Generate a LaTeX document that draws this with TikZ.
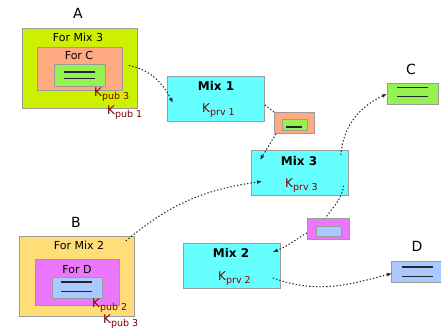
\documentclass[tikz,border=0pt]{standalone}
\usepackage{fontspec}
\setmainfont{DejaVu Sans}
\usepackage{tikz}
\usetikzlibrary{
  arrows.meta,
  calc,
  positioning,
}
\definecolor{boxgray}{RGB}{155, 155, 155}
\definecolor{keyred}{RGB}{128, 0, 0}
\definecolor{limeout}{RGB}{204, 240, 0}
\definecolor{salmon}{RGB}{255, 170, 128}
\definecolor{leafgreen}{RGB}{150, 242, 80}
\definecolor{mixcyan}{RGB}{102, 255, 255}
\definecolor{sandout}{RGB}{255, 221, 119}
\definecolor{orchid}{RGB}{235, 120, 252}
\definecolor{skyblue}{RGB}{170, 202, 255}
\tikzstyle{box} = [
  draw=boxgray,
  line width=0.8pt,
  anchor=north west,
  inner sep=0pt,
]
\tikzstyle{mixbox} = [box, fill=mixcyan, minimum width=97pt, minimum height=45pt]
\tikzstyle{txt} = [inner sep=0pt, anchor=base, font=\fontsize{11}{13}\selectfont]
\tikzstyle{party} = [txt, font=\fontsize{14}{16}\selectfont]
\tikzstyle{mixname} = [txt, font=\fontsize{12}{14}\selectfont\bfseries]
\tikzstyle{keytxt} = [inner sep=0pt, anchor=base west, text=keyred,
  font=\fontsize{12}{14}\selectfont]
\tikzstyle{msgline} = [line width=1.2pt, black!85]
\tikzstyle{hop} = [dash pattern=on 1.4pt off 2pt, line width=1pt, black!85]
\tikzstyle{arrow} = [hop, -{Latex[length=5pt,width=4pt]}]
\newcommand{\keyname}[1]{K\raisebox{-3pt}{\fontsize{9.5}{10}\selectfont #1}}

\begin{document}
\begin{tikzpicture}[x=1pt, y=1pt]

        \useasboundingbox (0,0) rectangle (441,-331);

        % sender A
        \node [box, fill=limeout, minimum width=115pt, minimum height=80pt] (aout) at (22,-28) {};
        \node [box, fill=salmon, minimum width=85pt, minimum height=43pt] (afor) at (37,-47) {};
        \node [box, fill=leafgreen, minimum width=51pt, minimum height=22pt] (amsg) at (54,-64) {};
        \draw [msgline] (64,-72) -- (95,-72);
        \draw [msgline, line width=1pt] (64,-79) -- (95,-79);
        \node [party] (alab) at (78,-19) {A};
        \node [txt] (aformix) at (78,-42) {For Mix 3};
        \node [txt] (aforc) at (79,-60) {For C};
        \node [keytxt] (akpub3) at (94,-97) {\keyname{pub 3}};
        \node [keytxt] (akpub1) at (107,-115) {\keyname{pub 1}};

        % sender B
        \node [box, fill=sandout, minimum width=115pt, minimum height=80pt] (bout) at (19,-236) {};
        \node [box, fill=orchid, minimum width=84pt, minimum height=46pt] (bfor) at (35,-259) {};
        \node [box, fill=skyblue, minimum width=50pt, minimum height=21pt] (bmsg) at (52,-277) {};
        \draw [msgline] (61,-282) -- (92,-282);
        \draw [msgline, line width=1pt] (61,-291) -- (92,-291);
        \node [party] (blab) at (76,-227) {B};
        \node [txt] (bformix) at (79,-249) {For Mix 2};
        \node [txt] (bford) at (77,-273) {For D};
        \node [keytxt] (bkpub2) at (92,-307) {\keyname{pub 2}};
        \node [keytxt] (bkpub3) at (103,-323) {\keyname{pub 3}};

        % mixes
        \node [mixbox] (mix1) at (167,-76) {};
        \node [mixname] (mix1lab) at (216,-91) {Mix 1};
        \node [keytxt] (mix1key) at (202,-113) {\keyname{prv 1}};

        \node [mixbox] (mix3) at (251,-150) {};
        \node [mixname] (mix3lab) at (299,-165) {Mix 3};
        \node [keytxt] (mix3key) at (285,-187) {\keyname{prv 3}};

        \node [mixbox] (mix2) at (183,-243) {};
        \node [mixname] (mix2lab) at (231,-257) {Mix 2};
        \node [keytxt] (mix2key) at (218,-280) {\keyname{prv 2}};

        % messages in transit
        \node [box, fill=salmon, minimum width=40pt, minimum height=21pt] (pkt1) at (274,-112) {};
        \node [box, fill=leafgreen, minimum width=25pt, minimum height=11pt] (pkt1in) at (282,-119) {};
        \draw [msgline] (286,-127) -- (302,-127);

        \node [box, fill=orchid, minimum width=42pt, minimum height=21pt] (pkt2) at (307,-218) {};
        \node [box, fill=skyblue, minimum width=25pt, minimum height=10pt] (pkt2in) at (316,-226) {};

        % receivers
        \node [box, fill=leafgreen, minimum width=51pt, minimum height=21pt] (cbox) at (387,-83) {};
        \draw [msgline] (397,-87.5) -- (428,-87.5);
        \draw [msgline, line width=1pt] (397,-97) -- (428,-97);
        \node [party] (clab) at (411,-75) {C};

        \node [box, fill=skyblue, minimum width=50pt, minimum height=21pt] (dbox) at (391,-261) {};
        \draw [msgline] (402,-267) -- (433,-267);
        \draw [msgline, line width=1pt] (402,-276) -- (433,-276);
        \node [party] (dlab) at (417,-251) {D};

        % hops
        \draw [arrow] ([shift={(-9,3)}]aout.east) to[out=-12,in=118] ([shift={(6,-4)}]mix1.west);

        \draw [hop] ([yshift=-6]mix1.east) -- (pkt1.north west);

        \draw [arrow] ([xshift=2]pkt1.south west) -- ([shift={(9,-10)}]mix3.north west);

        \draw [arrow] ([shift={(-9,-5)}]bout.north east) to[out=40,in=188] ([shift={(11,-8.5)}]mix3.west);

        \draw [hop] ([shift={(-5,10)}]mix3.south east) to[out=-100,in=55] ([xshift=-3]pkt2.north);

        \draw [arrow] ([yshift=-4]pkt2.west) to[out=210,in=20] ([shift={(-8,-9)}]mix2.north east);

        \draw [arrow] ([shift={(-8,-12)}]mix2.east) to[out=-20,in=195] ([shift={(1,-1.5)}]dbox.west);

        \draw [arrow] ([shift={(-8,-5)}]mix3.north east) to[out=85,in=205] (cbox.west);
      \end{tikzpicture}
\end{document}
